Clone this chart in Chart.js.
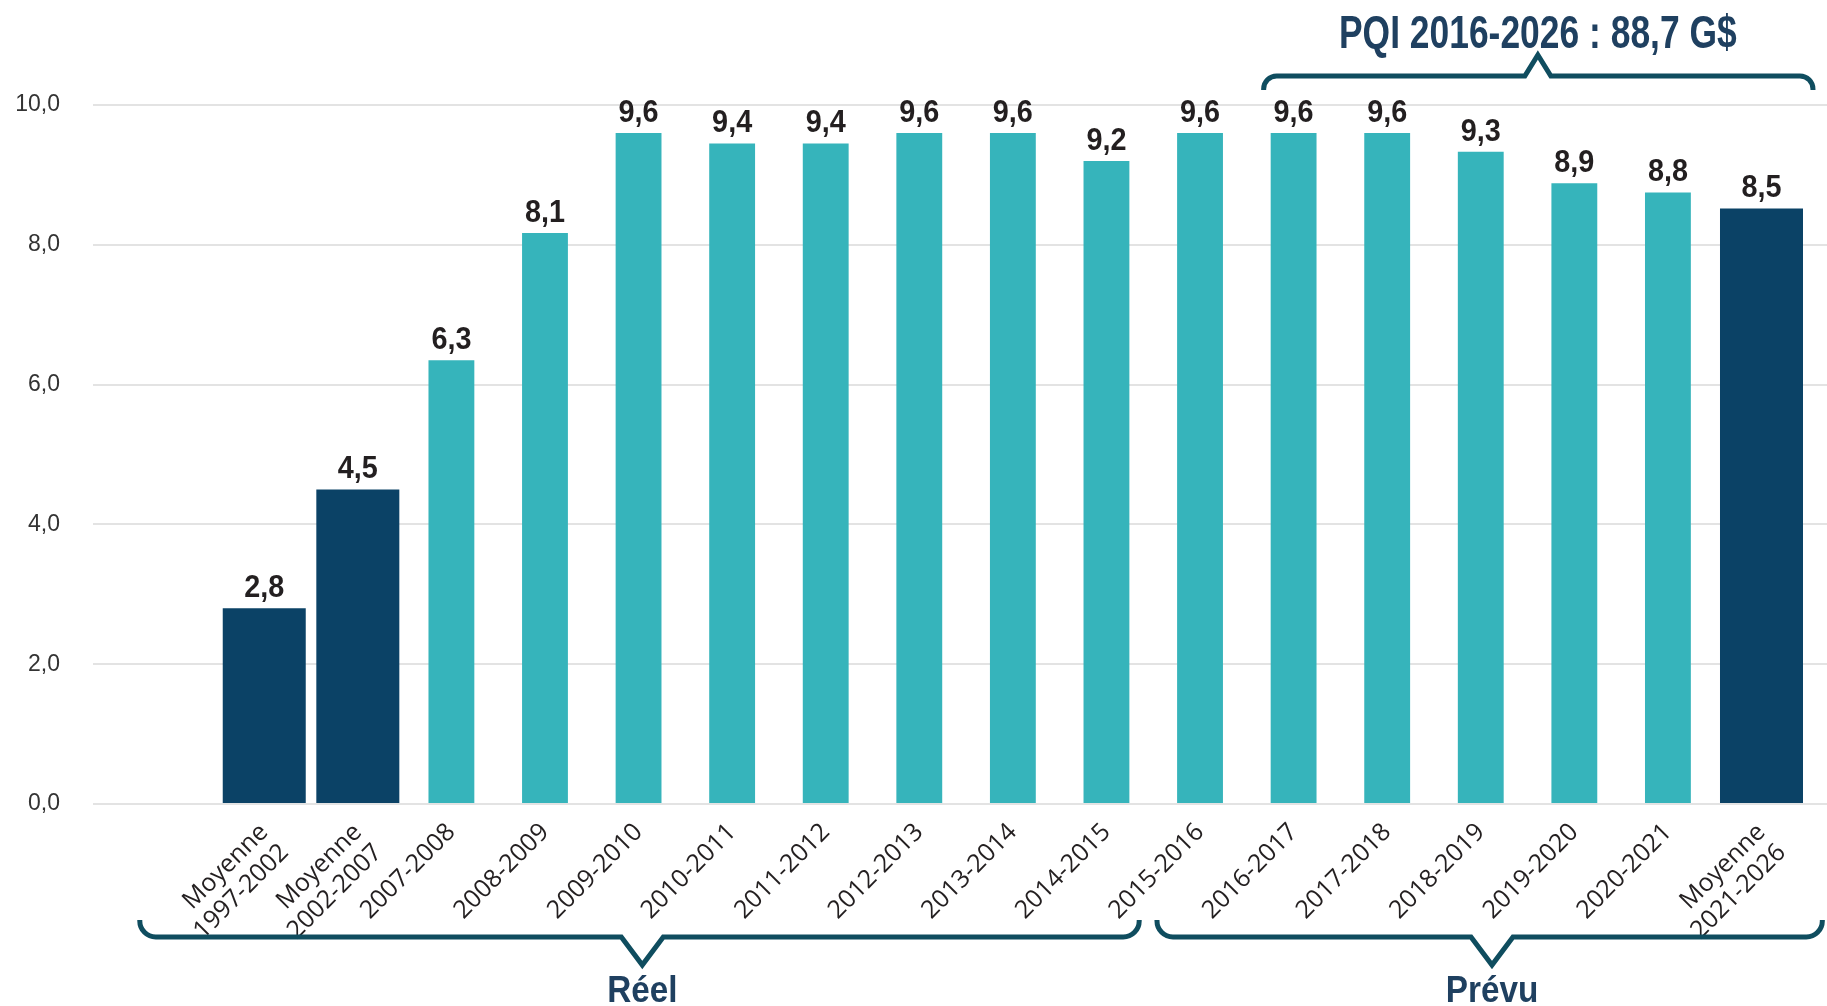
<!DOCTYPE html>
<html lang="fr">
<head>
<meta charset="utf-8">
<title>Investissements PQI</title>
<script src="https://cdn.jsdelivr.net/npm/chart.js@4.4.1/dist/chart.umd.min.js"></script>
<style>
    html, body { margin: 0; padding: 0; background: #ffffff; }
    #wrap { width: 1827px; height: 1006px; position: relative; }
</style>
</head>
<body>
<div id="wrap"><canvas id="chart-pqi"></canvas></div>
<script>
// Périodes (axe X)
const periodes = [
    ['Moyenne', '1997-2002'], ['Moyenne', '2002-2007'],
    '2007-2008', '2008-2009', '2009-2010', '2010-2011', '2011-2012',
    '2012-2013', '2013-2014', '2014-2015', '2015-2016', '2016-2017',
    '2017-2018', '2018-2019', '2019-2020', '2020-2021',
    ['Moyenne', '2021-2026']
];

// Moyennes (barres foncées)
const moyennes = [2.8, 4.5, null, null, null, null, null, null, null, null, null, null, null, null, null, null, 8.52];

// Années (barres turquoise)
const annuels = [null, null, 6.35, 8.17, 9.6, 9.45, 9.45, 9.6, 9.6, 9.2, 9.6, 9.6, 9.6, 9.33, 8.88, 8.75, null];

// Étiquettes affichées au-dessus des barres
const etiquettes = ['2,8', '4,5', '6,3', '8,1', '9,6', '9,4', '9,4', '9,6', '9,6', '9,2', '9,6', '9,6', '9,6', '9,3', '8,9', '8,8', '8,5'];

// Graduations de l'axe Y
const graduationsY = [0, 2, 4, 6, 8, 10];

// Accolades (positions en unités de l'axe X)
const accolades = [
    { de: -1.33, a: 9.35, pointe: 4.04, texte: 'Réel', bas: true },
    { de: 9.54, a: 16.65, pointe: 13.12, texte: 'Prévu', bas: true },
    { de: 10.68, a: 16.55, pointe: 13.61, texte: 'PQI 2016-2026 : 88,7 G$', bas: false }
];

const toPoints = (arr) => arr.map((v, i) => ({ x: i, y: v }));

// Texte condensé (étiré horizontalement)
function texteCondense(ctx, txt, x, y, size, sx, color) {
    ctx.save();
    ctx.font = 'bold ' + size + 'px "Liberation Sans", Arial, sans-serif';
    ctx.fillStyle = color;
    ctx.textAlign = 'center';
    ctx.textBaseline = 'alphabetic';
    ctx.translate(x, y);
    ctx.scale(sx, 1);
    ctx.fillText(txt, 0, 0);
    ctx.restore();
}

const etiquettesPlugin = {
    id: 'etiquettes',
    afterDatasetsDraw(chart) {
        const ctx = chart.ctx;
        chart.data.datasets.forEach((ds, di) => {
            const meta = chart.getDatasetMeta(di);
            meta.data.forEach((bar, i) => {
                if (ds.data[i].y === null) return;
                texteCondense(ctx, etiquettes[i], bar.x, bar.y - 11, 32, 0.9, '#231f20');
            });
        });
    }
};

const accoladesPlugin = {
    id: 'accolades',
    afterDraw(chart) {
        const ctx = chart.ctx;
        const xs = chart.scales.x;
        accolades.forEach((a) => {
            const x1 = xs.getPixelForValue(a.de);
            const x2 = xs.getPixelForValue(a.a);
            const xt = xs.getPixelForValue(a.pointe);
            const y = a.bas ? 937 : 76;
            const sens = a.bas ? -1 : 1;
            const r = a.bas ? 16 : 13;
            const bout = a.bas ? 17 : 14;
            const prof = a.bas ? 28 : 21;
            const demi = a.bas ? 21 : 13;
            ctx.save();
            ctx.strokeStyle = '#0f4d5f';
            ctx.lineWidth = 5;
            ctx.lineJoin = 'miter';
            ctx.beginPath();
            ctx.moveTo(x1, y + sens * bout);
            ctx.arcTo(x1, y, x1 + r, y, r);
            ctx.lineTo(xt - demi, y);
            ctx.lineTo(xt, y - sens * prof);
            ctx.lineTo(xt + demi, y);
            ctx.lineTo(x2 - r, y);
            ctx.arcTo(x2, y, x2, y + sens * r, r);
            ctx.lineTo(x2, y + sens * bout);
            ctx.stroke();
            ctx.restore();
            if (a.bas) {
                texteCondense(ctx, a.texte, xt, 1002, 37, 0.9, '#1f4060');
            } else {
                texteCondense(ctx, a.texte, xt, 48, 46, 0.77, '#1f4060');
            }
        });
    }
};

const ctx = document.getElementById('chart-pqi').getContext('2d');
const chart = new Chart(ctx, {
    type: 'bar',
    data: {
        datasets: [
            {
                label: 'Moyenne',
                data: toPoints(moyennes),
                backgroundColor: '#0b4266',
                grouped: false,
                categoryPercentage: 1,
                barPercentage: 0.887,
            },
            {
                label: 'Annuel',
                data: toPoints(annuels),
                backgroundColor: '#36b4bb',
                grouped: false,
                categoryPercentage: 1,
                barPercentage: 0.49,
            }
        ]
    },
    options: {
        responsive: true,
        maintainAspectRatio: false,
        animation: false,
        layout: { padding: { top: 105, right: 0, bottom: 0, left: 0 } },
        plugins: {
            legend: { display: false },
            tooltip: { enabled: false },
        },
        scales: {
            x: {
                type: 'linear',
                offset: false,
                min: -1.83,
                max: 16.70,
                afterBuildTicks: (s) => { s.ticks = periodes.map((_, i) => ({ value: i })); },
                afterFit: (s) => { s.height = 202; },
                grid: { display: false },
                border: { display: false },
                ticks: {
                    autoSkip: false,
                    minRotation: 45,
                    maxRotation: 45,
                    padding: 6,
                    color: '#231f20',
                    font: { family: '"Open Sans", sans-serif', size: 25, lineHeight: 1.15 },
                    callback: (v, i) => periodes[i],
                }
            },
            y: {
                min: 0,
                max: 10,
                afterBuildTicks: (s) => { s.ticks = graduationsY.map((v) => ({ value: v })); },
                afterFit: (s) => { s.width = 93; },
                grid: { color: '#e3e3e3', lineWidth: 2, drawTicks: false },
                border: { display: false },
                ticks: {
                    padding: 33,
                    color: '#333333',
                    font: { family: '"Liberation Sans", Arial, sans-serif', size: 23 },
                    callback: (v) => v.toFixed(1).replace('.', ','),
                }
            }
        }
    },
    plugins: [etiquettesPlugin, accoladesPlugin]
});
</script>
</body>
</html>
